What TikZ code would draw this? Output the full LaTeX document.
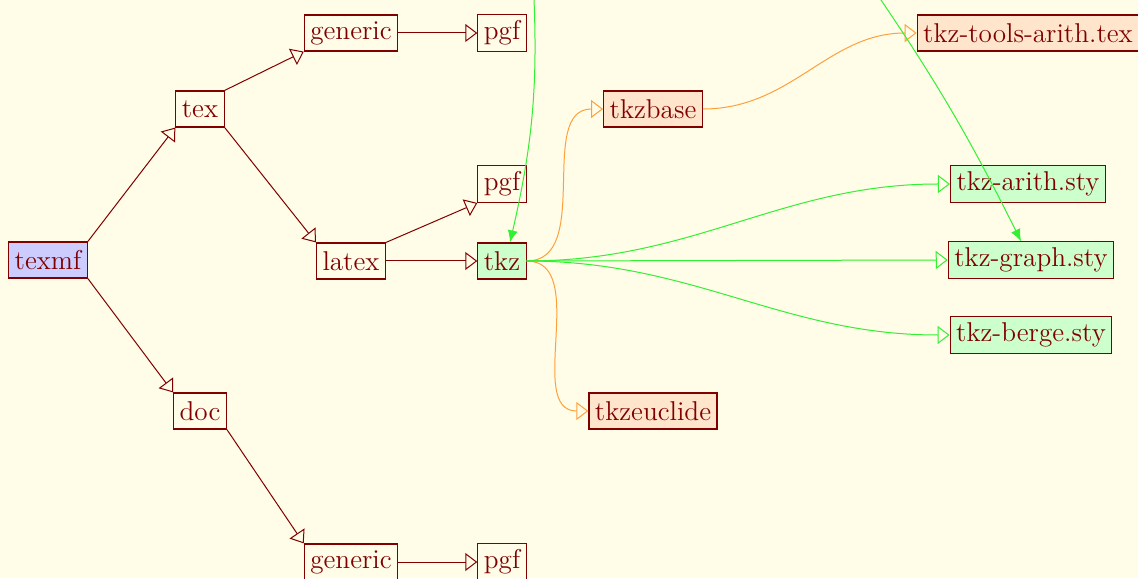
\documentclass[tikz,border=0pt]{standalone}
\usetikzlibrary{arrows.meta}
\definecolor{fond}{RGB}{255,252,232}
\definecolor{dred}{RGB}{128,0,0}
\definecolor{lorange}{RGB}{255,160,60}
\definecolor{lgreen}{RGB}{50,240,50}
\begin{document}
\begin{tikzpicture}[x=0.5pt,y=0.5pt,
  dir/.style={draw=dred,text=dred,line width=0.6pt,inner sep=3pt,
    minimum height=18pt,font=\fontsize{13.6}{16}\selectfont},
  root/.style={dir,fill=blue!20},
  pack/.style={dir,fill=green!20},
  base/.style={dir,fill=orange!20},
  tree/.style={draw=dred,line width=0.5pt,-{Triangle[open,length=6pt,width=9pt]}},
  otree/.style={tree,draw=lorange},
  gtree/.style={tree,draw=lgreen},
  link/.style={draw=lgreen,line width=0.5pt,-{Latex[length=6pt,width=5pt]}}]
\fill[fond] (0,0) rectangle (1138,578);
\clip (0,0) rectangle (1138,578);

% tree
\node[root] (texmf) at (48,318) {texmf};
\node[dir] (tex) at (200,469) {tex};
\node[dir] (doc) at (200,167) {doc};
\node[dir] (generic) at (351,545) {generic};
\node[dir] (latex) at (351,317) {latex};
\node[dir] (docgeneric) at (351,16) {generic};
\node[dir] (pgf) at (502,545) {pgf};
\node[dir] (latexpgf) at (502,394) {pgf};
\node[pack] (tkz) at (502,317) {tkz};
\node[dir] (docpgf) at (502,16) {pgf};
\node[base] (tkzbase) at (653,469) {tkzbase};
\node[base] (tkzeuclide) at (653,167) {tkzeuclide};
\node[base] (tools) at (1028,545) {tkz-tools-arith.tex};
\node[pack] (arith) at (1028,394) {tkz-arith.sty};
\node[pack] (graph) at (1031,318) {tkz-graph.sty};
\node[pack] (berge) at (1031,243) {tkz-berge.sty};

\draw[tree] (texmf.north east) -- (tex.south west);
\draw[tree] (texmf.south east) -- (doc.north west);
\draw[tree] (tex.north east) -- (generic.south west);
\draw[tree] (tex.south east) -- (latex.north west);
\draw[tree] (doc.south east) -- (docgeneric.north west);
\draw[tree] (generic) -- (pgf);
\draw[tree] (latex.north east) -- (latexpgf.south west);
\draw[tree] (latex) -- (tkz);
\draw[tree] (docgeneric) -- (docpgf);

% packages
\draw[otree] (tkz.east) to[out=0,in=180] (tkzbase.west);
\draw[otree] (tkz.east) to[out=0,in=180] (tkzeuclide.west);
\draw[otree] (tkzbase.east) to[out=0,in=180] (tools.west);
\draw[gtree] (tkz.east) to[out=0,in=180] (arith.west);
\draw[gtree] (tkz.east) -- (graph.west);
\draw[gtree] (tkz.east) to[out=0,in=180] (berge.west);

% links from above
\coordinate (up1) at (533,600);
\coordinate (up2) at (866,600);
\draw[link] (up1) to[bend left=8] ([xshift=4pt]tkz.north);
\draw[link] (up2) to[bend left=4] ([xshift=-5pt]graph.north);
\end{tikzpicture}
\end{document}
